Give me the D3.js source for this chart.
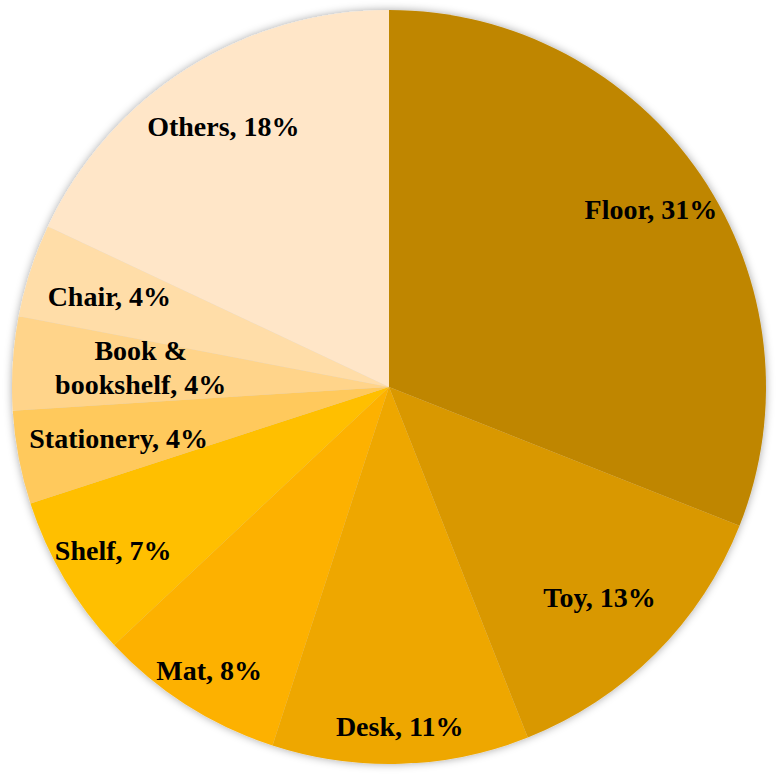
<!DOCTYPE html>
<html>
<head>
<meta charset="utf-8">
<script src="https://cdn.jsdelivr.net/npm/d3@7"></script>
<style>
  body { margin: 0; background: #fff; }
  text { font-family: "Palatino Linotype", "Book Antiqua", Palatino, "Liberation Serif", serif; font-weight: bold; }
</style>
</head>
<body>
<div id="chart"></div>
<script>
var categories = ['Floor', 'Toy', 'Desk', 'Mat', 'Shelf', 'Stationery', 'Book & bookshelf', 'Chair', 'Others'];
var shares = [31, 13, 11, 8, 7, 4, 4, 4, 18];
var colors = ['#BF8600', '#D99800', '#EEA700', '#FDB100', '#FFBF00', '#FFC95C', '#FFD48A', '#FFDDA8', '#FFE6C8'];
// label distance from centre, as a fraction of the radius
var labelR = [0.84, 0.79, 0.9, 0.89, 0.85, 0.73, 0.66, 0.78, 0.82];

var width = 778;
var height = 776;
var radius = 377;
var cx = 389, cy = 387;

var dataset = categories.map(function (c, i) {
    return {label: c, value: shares[i], idx: i};
});

var svg = d3.select('#chart')
    .append('svg')
    .attr('width', width)
    .attr('height', height);

var defs = svg.append('defs');
var f = defs.append('filter').attr('id', 'shadow')
    .attr('x', '-10%').attr('y', '-10%').attr('width', '120%').attr('height', '120%');
f.append('feDropShadow')
    .attr('dx', 0).attr('dy', 0)
    .attr('stdDeviation', 4)
    .attr('flood-color', '#000')
    .attr('flood-opacity', 0.35);

var g = svg.append('g')
    .attr('transform', 'translate(' + cx + ',' + cy + ')');

var color = d3.scaleOrdinal().domain(categories).range(colors);

var pie = d3.pie()
    .value(function (d) { return d.value; })
    .sort(null);

var arc = d3.arc()
    .innerRadius(0)
    .outerRadius(radius);

var arcs = pie(dataset);

g.append('g')
    .attr('filter', 'url(#shadow)')
    .selectAll('path')
    .data(arcs)
    .enter()
    .append('path')
    .attr('d', arc)
    .attr('fill', function (d) { return color(d.data.label); });

var labels = g.selectAll('text.lbl')
    .data(arcs)
    .enter()
    .append('text')
    .attr('class', 'lbl')
    .attr('text-anchor', 'middle')
    .style('font-size', '28px')
    .attr('fill', '#000')
    .each(function (d) {
        var r = radius * labelR[d.data.idx];
        var a = (d.startAngle + d.endAngle) / 2;
        var x = Math.sin(a) * r;
        var y = -Math.cos(a) * r;
        var t = d3.select(this);
        var txt = d.data.label + ', ' + d.data.value + '%';
        if (d.data.label === 'Book & bookshelf') {
            t.append('tspan').attr('x', x).attr('y', y - 21).attr('dy', '0.35em').text('Book &');
            t.append('tspan').attr('x', x).attr('y', y + 13).attr('dy', '0.35em').text('bookshelf, ' + d.data.value + '%');
        } else {
            t.attr('x', x).attr('y', y).attr('dy', '0.35em').text(txt);
        }
    });
</script>
</body>
</html>
